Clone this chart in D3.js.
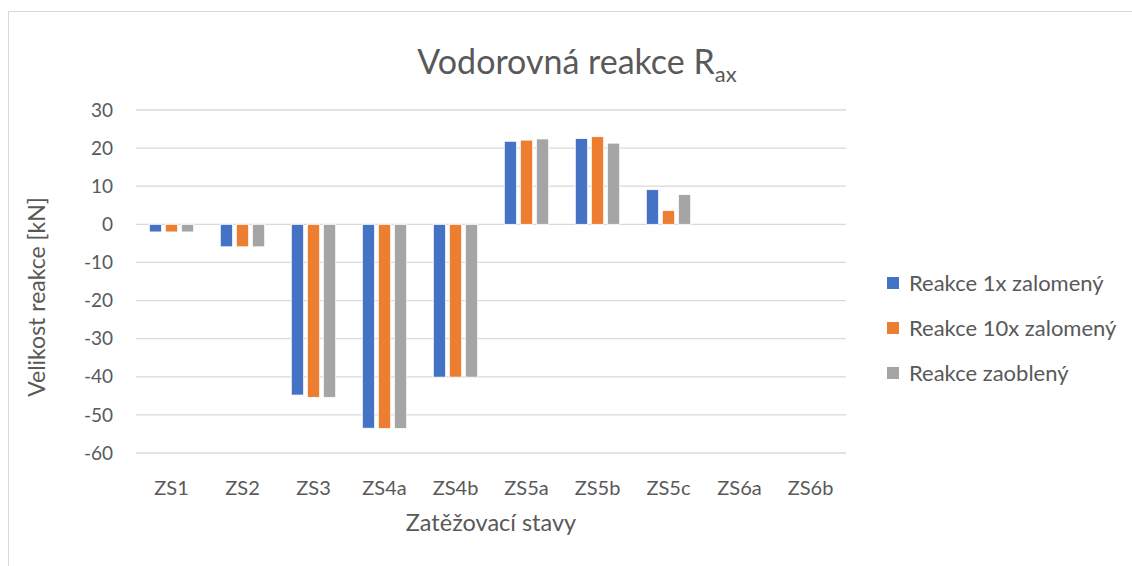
<!DOCTYPE html>
<html>
<head>
<meta charset="utf-8">
<script src="https://cdn.jsdelivr.net/npm/d3@7"></script>
<style>
  html, body { margin: 0; padding: 0; background: #fff; }
  svg { display: block; }
  text { font-family: Lato, "Open Sans", sans-serif; fill: #595959; }
</style>
</head>
<body>
<svg id="chart" width="1132" height="566"></svg>
<script>
// Load cases and horizontal reaction values [kN]
const categories = ["ZS1", "ZS2", "ZS3", "ZS4a", "ZS4b", "ZS5a", "ZS5b", "ZS5c", "ZS6a", "ZS6b"];
const seriesNames = ["Reakce 1x zalomený", "Reakce 10x zalomený", "Reakce zaoblený"];
const reakce1x  = [-2.0, -5.9, -44.8, -53.5, -40.1, 21.8, 22.5, 9.1, 0, 0];
const reakce10x = [-2.0, -5.9, -45.4, -53.6, -40.1, 22.1, 23.0, 3.6, 0, 0];
const reakceZaobleny = [-2.0, -5.9, -45.4, -53.6, -40.1, 22.4, 21.3, 7.8, 0, 0];
const seriesColors = ["#4472C4", "#ED7D31", "#A5A5A5"];
const yTicks = [30, 20, 10, 0, -10, -20, -30, -40, -50, -60];

const seriesValues = [reakce1x, reakce10x, reakceZaobleny];

const svg = d3.select("#chart");

// Chart area frame
svg.append("rect")
  .attr("x", 8.5).attr("y", 11.5)
  .attr("width", 1140).attr("height", 600)
  .attr("fill", "none").attr("stroke", "#d9d9d9").attr("stroke-width", 1);

const plot = { left: 136, right: 846, top: 110, bottom: 453 };

const y = d3.scaleLinear().domain([-60, 30]).range([plot.bottom, plot.top]);
const x0 = d3.scaleBand().domain(categories).range([plot.left, plot.right]).padding(0);
const x1 = d3.scaleBand().domain(seriesNames).range([0, x0.bandwidth()])
  .paddingInner(0.23).paddingOuter(0.83);

// Gridlines
svg.append("g")
  .selectAll("line").data(yTicks).join("line")
  .attr("x1", plot.left).attr("x2", plot.right)
  .attr("y1", d => y(d)).attr("y2", d => y(d))
  .attr("stroke", "#d9d9d9").attr("stroke-width", 1.3);

// Y tick labels
svg.append("g")
  .selectAll("text").data(yTicks).join("text")
  .attr("x", 113).attr("y", d => y(d))
  .attr("dy", "0.35em")
  .attr("text-anchor", "end")
  .style("font-size", "19px")
  .text(d => d);

// Bars
const groups = svg.append("g")
  .selectAll("g").data(categories).join("g")
  .attr("transform", c => `translate(${x0(c)},0)`);

groups.selectAll("rect")
  .data((c, i) => seriesNames.map((s, k) => ({ s, k, v: seriesValues[k][i] })))
  .join("rect")
  .attr("x", d => x1(d.s))
  .attr("width", x1.bandwidth())
  .attr("y", d => y(Math.max(0, d.v)))
  .attr("height", d => Math.abs(y(d.v) - y(0)))
  .attr("fill", d => seriesColors[d.k])
  .attr("stroke", "#fff").attr("stroke-width", 0.8);

// Category labels
svg.append("g")
  .selectAll("text").data(categories).join("text")
  .attr("x", c => x0(c) + x0.bandwidth() / 2)
  .attr("y", 495)
  .attr("text-anchor", "middle")
  .style("font-size", "20px")
  .text(c => c);

// Axis titles
svg.append("text")
  .attr("x", 491).attr("y", 531)
  .attr("text-anchor", "middle")
  .style("font-size", "23.5px")
  .text("Zatěžovací stavy");

svg.append("text")
  .attr("transform", "translate(45,297) rotate(-90)")
  .attr("text-anchor", "middle")
  .style("font-size", "23px")
  .text("Velikost reakce [kN]");

// Title with subscript
const title = svg.append("text")
  .attr("x", 577).attr("y", 74)
  .attr("text-anchor", "middle")
  .style("font-size", "34px");
title.append("tspan").text("Vodorovná reakce R");
title.append("tspan").attr("dy", 8).style("font-size", "22px").text("ax");

// Legend
const legend = svg.append("g")
  .selectAll("g").data(seriesNames).join("g")
  .attr("transform", (d, i) => `translate(887,${283 + i * 45})`);
legend.append("rect")
  .attr("x", 0).attr("y", -6).attr("width", 12).attr("height", 12)
  .attr("fill", (d, i) => seriesColors[i]);
legend.append("text")
  .attr("x", 22).attr("y", 0).attr("dy", "0.36em")
  .style("font-size", "22px")
  .text(d => d);
</script>
</body>
</html>
